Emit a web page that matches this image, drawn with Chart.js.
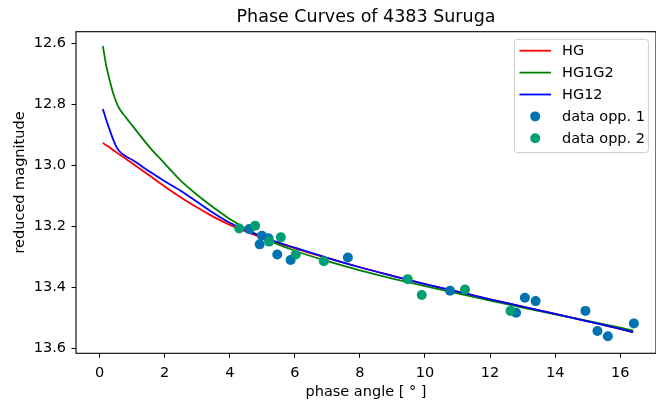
<!DOCTYPE html>
<html lang="en">
<head>
    <meta charset="UTF-8">
    <title>Phase Curves of 4383 Suruga</title>
    <script src="https://cdn.jsdelivr.net/npm/chart.js"></script>
    <style>
        html, body { margin: 0; padding: 0; background: #fff; }
        #wrap { width: 656px; height: 406px; overflow: hidden; }
    </style>
</head>
<body>
    <div id="wrap"><canvas id="phaseChart" width="656" height="406"></canvas></div>

    <script>
        // model curves
        const phaseGrid = [0.1, 0.2, 0.3, 0.4, 0.5, 0.6, 0.8, 1, 1.5, 2, 2.5, 3, 3.5, 4,
                           5, 6, 7, 8, 9, 10, 11, 12, 13, 14, 15, 16, 16.4];
        const magHG = [12.926, 12.934, 12.941, 12.949, 12.956, 12.964, 12.978, 12.993, 13.031,
                       13.069, 13.105, 13.138, 13.169, 13.195, 13.237, 13.272, 13.304, 13.334,
                       13.362, 13.389, 13.414, 13.439, 13.463, 13.487, 13.511, 13.536, 13.547];
        const magHG1G2 = [12.609, 12.672, 12.718, 12.758, 12.789, 12.813, 12.842, 12.869, 12.936,
                          12.994, 13.051, 13.097, 13.138, 13.176, 13.236, 13.280, 13.314, 13.344,
                          13.371, 13.396, 13.420, 13.443, 13.466, 13.488, 13.510, 13.532, 13.541];
        const magHG12 = [12.815, 12.850, 12.881, 12.911, 12.936, 12.953, 12.970, 12.982, 13.018,
                         13.052, 13.084, 13.120, 13.156, 13.188, 13.234, 13.270, 13.303, 13.334,
                         13.362, 13.389, 13.414, 13.439, 13.463, 13.487, 13.511, 13.536, 13.547];

        // observations
        const opp1Phase = [4.60, 4.99, 5.19, 4.92, 5.46, 5.87, 7.63, 10.77, 13.07, 13.40, 12.80,
                           14.93, 15.30, 15.62, 16.42];
        const opp1Mag = [13.209, 13.231, 13.239, 13.259, 13.292, 13.310, 13.302, 13.411, 13.434,
                         13.445, 13.483, 13.477, 13.543, 13.560, 13.518];
        const opp2Phase = [4.29, 4.78, 5.21, 5.57, 6.03, 6.89, 9.47, 9.90, 11.23, 12.63];
        const opp2Mag = [13.207, 13.198, 13.250, 13.236, 13.292, 13.314, 13.373, 13.425, 13.407, 13.477];

        const xTicks = [0, 2, 4, 6, 8, 10, 12, 14, 16];
        const yTicks = [12.6, 12.8, 13.0, 13.2, 13.4, 13.6];

        const FONT = "'DejaVu Sans', sans-serif";
        const pts = (xs, ys) => xs.map((x, i) => ({x: x, y: ys[i]}));

        const curve = (label, ys, color, order) => ({
            label: label,
            data: pts(phaseGrid, ys),
            showLine: true,
            borderColor: color,
            backgroundColor: color,
            borderWidth: 1.8,
            pointRadius: 0,
            cubicInterpolationMode: 'monotone',
            legendKind: 'line',
            order: order
        });
        const dots = (label, xs, ys, color, order) => ({
            label: label,
            data: pts(xs, ys),
            showLine: false,
            backgroundColor: color,
            borderWidth: 0,
            pointRadius: 5,
            pointHoverRadius: 5,
            legendKind: 'dot',
            order: order
        });

        // frame round the axes, y label and legend in the top right corner
        const framePlugin = {
            id: 'frame',
            afterDraw(chart) {
                const c = chart.ctx, a = chart.chartArea;
                c.save();
                c.strokeStyle = '#000';
                c.lineWidth = 1.1;
                c.strokeRect(a.left, a.top, a.right - a.left, a.bottom - a.top);

                c.save();
                c.translate(20, 182.5);
                c.rotate(-Math.PI / 2);
                c.font = '14.5px ' + FONT;
                c.fillStyle = '#000';
                c.textAlign = 'center';
                c.textBaseline = 'middle';
                c.fillText('reduced magnitude', 0, 0);
                c.restore();

                const bw = 134, bh = 113.4, r = 3;
                const bx = a.right - 7.6 - bw, by = a.top + 7.6;
                c.beginPath();
                c.moveTo(bx + r, by);
                c.arcTo(bx + bw, by, bx + bw, by + bh, r);
                c.arcTo(bx + bw, by + bh, bx, by + bh, r);
                c.arcTo(bx, by + bh, bx, by, r);
                c.arcTo(bx, by, bx + bw, by, r);
                c.closePath();
                c.fillStyle = 'rgba(255,255,255,0.8)';
                c.fill();
                c.strokeStyle = '#cccccc';
                c.lineWidth = 1;
                c.stroke();

                c.font = '14.5px ' + FONT;
                c.textBaseline = 'middle';
                c.textAlign = 'left';
                chart.data.datasets.forEach((ds, i) => {
                    const y = by + 11.4 + i * 21.9;
                    if (ds.legendKind === 'line') {
                        c.strokeStyle = ds.borderColor;
                        c.lineWidth = 1.8;
                        c.beginPath();
                        c.moveTo(bx + 5, y);
                        c.lineTo(bx + 36.6, y);
                        c.stroke();
                    } else {
                        c.fillStyle = ds.backgroundColor;
                        c.beginPath();
                        c.arc(bx + 20.8, y, 5, 0, Math.PI * 2);
                        c.fill();
                    }
                    c.fillStyle = '#000';
                    c.fillText(ds.label, bx + 47.6, y + 0.5);
                });
                c.restore();
            }
        };

        const ctx = document.getElementById('phaseChart').getContext('2d');
        new Chart(ctx, {
            type: 'scatter',
            data: {
                datasets: [
                    curve('HG', magHG, '#ff0000', 4),
                    curve('HG1G2', magHG1G2, '#008000', 3),
                    curve('HG12', magHG12, '#0000ff', 2),
                    dots('data opp. 1', opp1Phase, opp1Mag, '#0072b2', 1),
                    dots('data opp. 2', opp2Phase, opp2Mag, '#009e73', 0)
                ]
            },
            options: {
                responsive: false,
                animation: false,
                events: [],
                // the axes run a little past the right edge of the picture
                layout: { autoPadding: false, padding: { left: 0, right: -2.3, top: 0, bottom: 0 } },
                plugins: {
                    legend: { display: false },
                    tooltip: { enabled: false },
                    title: {
                        display: true,
                        text: 'Phase Curves of 4383 Suruga',
                        fullSize: false,
                        color: '#000',
                        font: { family: FONT, size: 17.5, weight: 'normal' },
                        padding: { top: 7, bottom: 3.7 }
                    }
                },
                scales: {
                    x: {
                        type: 'linear',
                        min: -0.726,
                        max: 17.10,
                        afterBuildTicks: s => { s.ticks = xTicks.map(v => ({value: v})); },
                        afterFit: s => { s.height = 52.7; s.paddingLeft = 0; s.paddingRight = 0; },
                        border: { display: false },
                        grid: { drawOnChartArea: false, drawTicks: true, tickLength: 4.5, color: '#000' },
                        ticks: {
                            color: '#000', padding: 7, maxRotation: 0,
                            font: { family: FONT, size: 14.5 },
                            callback: v => String(v)
                        },
                        title: {
                            display: true, text: 'phase angle [ ° ]',
                            color: '#000', font: { family: FONT, size: 14.5 },
                            padding: { top: 0, bottom: 5.3 }
                        }
                    },
                    y: {
                        type: 'linear',
                        reverse: true,
                        min: 12.562,
                        max: 13.616,
                        afterBuildTicks: s => { s.ticks = yTicks.map(v => ({value: v})); },
                        afterFit: s => { s.width = 76; s.paddingTop = 0; s.paddingBottom = 0; },
                        border: { display: false },
                        grid: { drawOnChartArea: false, drawTicks: true, tickLength: 4.5, color: '#000' },
                        ticks: {
                            color: '#000', padding: 5.5,
                            font: { family: FONT, size: 14.5 },
                            callback: v => v.toFixed(1)
                        },
                        title: { display: false }
                    }
                }
            },
            plugins: [framePlugin]
        });
    </script>
</body>
</html>
